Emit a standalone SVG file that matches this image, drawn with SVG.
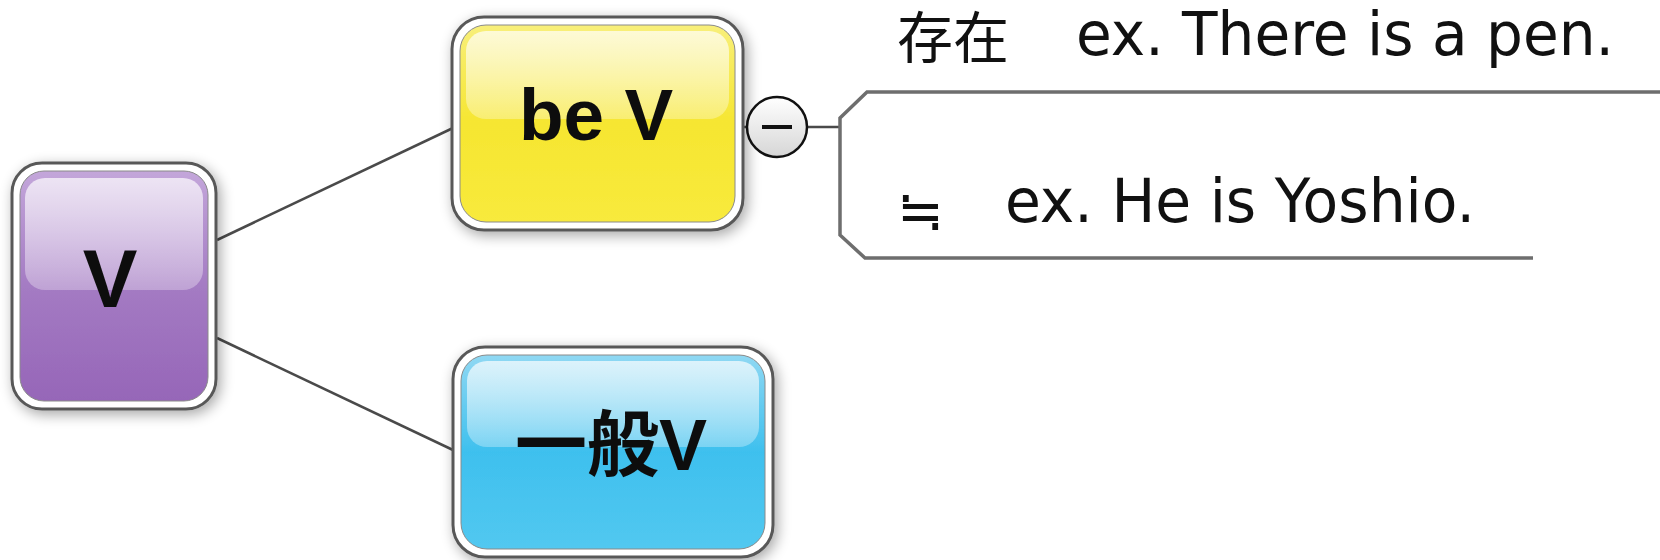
<svg xmlns="http://www.w3.org/2000/svg" width="1660" height="560" viewBox="0 0 1660 560">
<defs>
  <filter id="sh" x="-20%" y="-20%" width="140%" height="140%">
    <feGaussianBlur in="SourceAlpha" stdDeviation="7"/>
    <feOffset dx="3" dy="4" result="b"/>
    <feComponentTransfer><feFuncA type="linear" slope="0.35"/></feComponentTransfer>
    <feMerge><feMergeNode/><feMergeNode in="SourceGraphic"/></feMerge>
  </filter>
  <linearGradient id="gPurple" x1="0" y1="0" x2="0" y2="1">
    <stop offset="0" stop-color="#c3a6da"/>
    <stop offset="0.5" stop-color="#a47bc3"/>
    <stop offset="1" stop-color="#9666b8"/>
  </linearGradient>
  <linearGradient id="gYellow" x1="0" y1="0" x2="0" y2="1">
    <stop offset="0" stop-color="#f8ef7a"/>
    <stop offset="0.5" stop-color="#f6e631"/>
    <stop offset="1" stop-color="#f8ea3c"/>
  </linearGradient>
  <linearGradient id="gCyan" x1="0" y1="0" x2="0" y2="1">
    <stop offset="0" stop-color="#8fd8f3"/>
    <stop offset="0.5" stop-color="#3ec0ee"/>
    <stop offset="1" stop-color="#52c8f0"/>
  </linearGradient>
  <linearGradient id="gHi" x1="0" y1="0" x2="0" y2="1">
    <stop offset="0" stop-color="#ffffff" stop-opacity="0.7"/>
    <stop offset="1" stop-color="#ffffff" stop-opacity="0.3"/>
  </linearGradient>
  <linearGradient id="gCircle" x1="0" y1="0" x2="0" y2="1">
    <stop offset="0" stop-color="#ffffff"/>
    <stop offset="1" stop-color="#d6d6d6"/>
  </linearGradient>
  <style>
    .outer { fill: #ffffff; stroke: #595959; stroke-width: 3; }
    .inner { stroke: #8a8a8a; stroke-width: 1; }
    .hi { fill: url(#gHi); }
    .lbl { font-family: "Liberation Sans", "Noto Sans CJK JP", sans-serif; font-weight: bold; fill: #111; text-anchor: middle; }
    .note { font-family: "DejaVu Sans", "Noto Sans CJK JP", sans-serif; font-size: 60px; fill: #111; }
    .cjk { font-family: "Noto Sans CJK JP", sans-serif; font-size: 56px; fill: #111; }
    .edge { stroke: #4a4a4a; stroke-width: 2.5; fill: none; }
    .bracket { stroke: #6e6e6e; stroke-width: 3.5; fill: none; }
  </style>
</defs>

<g id="connectors">
  <line class="edge" x1="217" y1="240" x2="453" y2="128"/>
  <line class="edge" x1="217" y1="338" x2="453" y2="450"/>
  <line class="edge" x1="743" y1="127" x2="747" y2="127"/>
  <line class="edge" x1="807" y1="127" x2="840" y2="127"/>
  <polyline class="bracket" points="1660,92 867,92 840,118 840,235 865,258 1533,258"/>
</g>

<g id="node-v" filter="url(#sh)">
  <rect class="outer" x="12" y="163" width="204" height="246" rx="30"/>
  <rect class="inner" x="20" y="171" width="188" height="230" rx="24" fill="url(#gPurple)"/>
  <rect class="hi" x="25" y="178" width="178" height="112" rx="20"/>
  <text class="lbl" x="110" y="307" font-size="82">V</text>
</g>

<g id="node-bev" filter="url(#sh)">
  <rect class="outer" x="452" y="17" width="291" height="213" rx="32"/>
  <rect class="inner" x="460" y="25" width="275" height="197" rx="26" fill="url(#gYellow)"/>
  <rect class="hi" x="466" y="31" width="263" height="88" rx="20"/>
  <text class="lbl" x="596" y="140" font-size="73">be V</text>
</g>

<g id="node-ippan" filter="url(#sh)">
  <rect class="outer" x="453" y="347" width="320" height="210" rx="32"/>
  <rect class="inner" x="461" y="355" width="304" height="194" rx="26" fill="url(#gCyan)"/>
  <rect class="hi" x="467" y="361" width="292" height="86" rx="20"/>
  <text class="lbl" x="611" y="470" font-size="72">一般V</text>
</g>

<g id="collapse">
  <circle cx="777" cy="127" r="30" fill="url(#gCircle)" stroke="#111" stroke-width="2.5"/>
  <line x1="762" y1="127" x2="792" y2="127" stroke="#111" stroke-width="4"/>
</g>

<g id="notes">
  <text class="cjk" x="897" y="58">存在</text>
  <text class="note" x="1076" y="55" textLength="538" lengthAdjust="spacingAndGlyphs">ex. There is a pen.</text>
  <text class="cjk" x="897" y="230">≒</text>
  <text class="note" x="1005" y="222" textLength="470" lengthAdjust="spacingAndGlyphs">ex. He is Yoshio.</text>
</g>
</svg>
